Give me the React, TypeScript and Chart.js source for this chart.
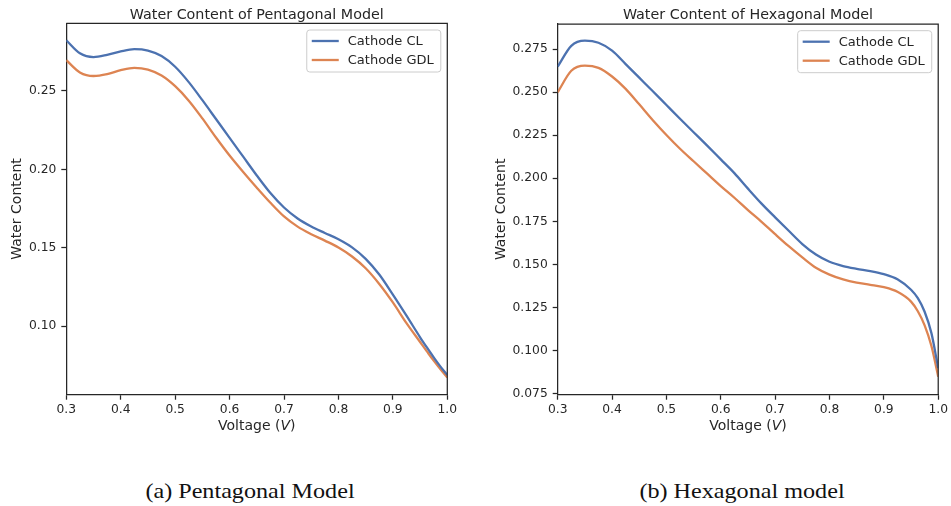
import React, { useEffect, useRef } from 'react';
import { Chart, registerables } from 'chart.js';

Chart.register(...registerables);

// ---------------- data ----------------
const voltage = [
  0.3, 0.325, 0.35, 0.375, 0.4, 0.425, 0.45, 0.475, 0.5, 0.525, 0.55, 0.575, 0.6, 0.625, 0.65, 0.675,
  0.7, 0.725, 0.75, 0.775, 0.8, 0.825, 0.85, 0.875, 0.9, 0.925, 0.95, 0.9625, 0.975, 0.9875, 1.0,
];

const pentagonalCL = [
  0.2823, 0.274, 0.2716, 0.273, 0.2752, 0.2766, 0.2757, 0.2722, 0.2654, 0.2556, 0.2441, 0.2321, 0.2201, 0.2081, 0.1961, 0.1849,
  0.1757, 0.1687, 0.1636, 0.1595, 0.1555, 0.1503, 0.143, 0.133, 0.1202, 0.1068, 0.093, 0.0865, 0.0802, 0.0743, 0.0689,
];
const pentagonalGDL = [
  0.2696, 0.2618, 0.2595, 0.2607, 0.2632, 0.2647, 0.2636, 0.2598, 0.253, 0.2438, 0.2325, 0.2203, 0.2088, 0.1983, 0.1883, 0.1787,
  0.17, 0.1635, 0.1587, 0.1546, 0.1502, 0.1445, 0.137, 0.127, 0.1152, 0.102, 0.09, 0.084, 0.0781, 0.0726, 0.0674,
];
const hexagonalCL = [
  0.2649, 0.277, 0.28, 0.2788, 0.2742, 0.2664, 0.2585, 0.2506, 0.2426, 0.2346, 0.2268, 0.219, 0.211, 0.203, 0.194, 0.1853,
  0.1773, 0.1695, 0.1618, 0.1557, 0.1515, 0.149, 0.1474, 0.1461, 0.1443, 0.1413, 0.1352, 0.1303, 0.1224, 0.11, 0.0895,
];
const hexagonalGDL = [
  0.25, 0.2625, 0.2655, 0.2642, 0.2592, 0.252, 0.243, 0.2338, 0.2252, 0.2172, 0.2099, 0.2027, 0.1955, 0.1887, 0.1815, 0.1747,
  0.1675, 0.1605, 0.154, 0.148, 0.144, 0.1412, 0.1393, 0.1381, 0.1367, 0.134, 0.1283, 0.1227, 0.1145, 0.1025, 0.0847,
];

const seriesNames = ['Cathode CL', 'Cathode GDL'];
const seriesColors = ['#4C72B0', '#DD8452'];
const xTickValues = [0.3, 0.4, 0.5, 0.6, 0.7, 0.8, 0.9, 1.0];
const pentagonalYTicks = [0.1, 0.15, 0.2, 0.25];
const hexagonalYTicks = [0.075, 0.1, 0.125, 0.15, 0.175, 0.2, 0.225, 0.25, 0.275];
const chartTitles = ['Water Content of Pentagonal Model', 'Water Content of Hexagonal Model'];
const captions = ['(a) Pentagonal Model', '(b) Hexagonal model'];
const yAxisTitle = 'Water Content';
const xAxisTitleParts = ['Voltage (', 'V', ')'];

// ---------------- styling ----------------
const INK = '#262626';
const SANS = '"DejaVu Sans", sans-serif';

const panelPlugin = {
  id: 'panel',
  afterDraw(chart: any, _args: any, opts: any) {
    const { ctx, chartArea: a } = chart;
    const cx = (a.left + a.right) / 2;
    ctx.save();
    // top + right spines
    ctx.strokeStyle = INK;
    ctx.lineWidth = 1.25;
    ctx.beginPath();
    ctx.moveTo(a.left, a.top);
    ctx.lineTo(a.right, a.top);
    ctx.lineTo(a.right, a.bottom);
    ctx.stroke();

    // title
    ctx.fillStyle = INK;
    ctx.font = `14.3px ${SANS}`;
    ctx.textAlign = 'center';
    ctx.textBaseline = 'alphabetic';
    ctx.fillText(opts.title, cx, opts.titleY);

    // x axis title with italic V
    const normal = `14px ${SANS}`;
    const italic = `oblique 14px ${SANS}`;
    ctx.font = normal;
    const w0 = ctx.measureText(xAxisTitleParts[0]).width;
    const w2 = ctx.measureText(xAxisTitleParts[2]).width;
    ctx.font = italic;
    const w1 = ctx.measureText(xAxisTitleParts[1]).width;
    let x = cx - (w0 + w1 + w2) / 2;
    ctx.textAlign = 'left';
    ctx.font = normal;
    ctx.fillText(xAxisTitleParts[0], x, opts.xTitleY);
    x += w0;
    ctx.font = italic;
    ctx.fillText(xAxisTitleParts[1], x, opts.xTitleY);
    x += w1;
    ctx.font = normal;
    ctx.fillText(xAxisTitleParts[2], x, opts.xTitleY);

    // legend inside, upper right
    ctx.font = `13px ${SANS}`;
    const labels = chart.data.datasets.map((d: any) => d.label as string);
    const tw = Math.max(...labels.map((l: string) => ctx.measureText(l).width));
    const bw = 41 + tw + 7;
    const bh = 42;
    const bx = a.right - 6.5 - bw;
    const by = a.top + 6.7;
    ctx.beginPath();
    (ctx as any).roundRect(bx, by, bw, bh, 3);
    ctx.fillStyle = 'rgba(255,255,255,0.8)';
    ctx.fill();
    ctx.strokeStyle = '#cccccc';
    ctx.lineWidth = 1;
    ctx.stroke();
    chart.data.datasets.forEach((d: any, i: number) => {
      const ry = by + 11 + i * 19;
      ctx.beginPath();
      ctx.moveTo(bx + 5, ry);
      ctx.lineTo(bx + 32, ry);
      ctx.strokeStyle = d.borderColor;
      ctx.lineWidth = 2.3;
      ctx.stroke();
      ctx.fillStyle = INK;
      ctx.textAlign = 'left';
      ctx.textBaseline = 'middle';
      ctx.fillText(d.label, bx + 41, ry + 0.5);
    });
    ctx.restore();
  },
};

type PanelSpec = {
  cl: number[];
  gdl: number[];
  yMin: number;
  yMax: number;
  yTicks: number[];
  yDecimals: number;
  title: string;
  plotLeft: number;
  plotRight: number;
  plotTop: number;
  plotBottom: number;
  width: number;
  height: number;
  yTitleCenter: number;
};

function buildChart(canvas: HTMLCanvasElement, s: PanelSpec) {
  const tickFont = { family: SANS, size: 12.3 };
  return new Chart(canvas, {
    type: 'line',
    data: {
      datasets: [s.cl, s.gdl].map((vals, k) => ({
        label: seriesNames[k],
        data: voltage.map((v, i) => ({ x: v, y: vals[i] })),
        borderColor: seriesColors[k],
        backgroundColor: seriesColors[k],
        borderWidth: 2.3,
        pointRadius: 0,
        fill: false,
        cubicInterpolationMode: 'monotone' as const,
      })),
    },
    options: {
      responsive: false,
      animation: false,
      events: [],
      layout: {
        padding: { left: 0, top: s.plotTop, right: s.width - s.plotRight, bottom: 0 },
      },
      plugins: {
        legend: { display: false },
        tooltip: { enabled: false },
        title: { display: false },
        panel: { title: s.title, titleY: 19, xTitleY: 429.5 },
      } as any,
      scales: {
        x: {
          type: 'linear',
          min: 0.3,
          max: 1.0,
          afterBuildTicks: (sc: any) => {
            sc.ticks = xTickValues.map((v) => ({ value: v }));
          },
          afterFit: (sc: any) => {
            sc.height = s.height - s.plotBottom;
          },
          ticks: {
            autoSkip: false,
            maxRotation: 0,
            font: tickFont,
            color: INK,
            padding: 3,
            callback: (v: any) => Number(v).toFixed(1),
          },
          grid: {
            display: true,
            drawOnChartArea: false,
            drawTicks: true,
            tickLength: 5,
            tickColor: INK,
            tickWidth: 1.25,
          },
          border: { display: true, color: INK, width: 1.25 },
        },
        y: {
          type: 'linear',
          min: s.yMin,
          max: s.yMax,
          afterBuildTicks: (sc: any) => {
            sc.ticks = s.yTicks.map((v) => ({ value: v }));
          },
          afterFit: (sc: any) => {
            sc.width = s.plotLeft;
          },
          ticks: {
            autoSkip: false,
            font: tickFont,
            color: INK,
            padding: 5,
            callback: (v: any) => Number(v).toFixed(s.yDecimals),
          },
          grid: {
            display: true,
            drawOnChartArea: false,
            drawTicks: true,
            tickLength: 5,
            tickColor: INK,
            tickWidth: 1.25,
          },
          border: { display: true, color: INK, width: 1.25 },
          title: {
            display: true,
            text: yAxisTitle,
            color: INK,
            font: { family: SANS, size: 14 },
            padding: { top: s.yTitleCenter - 8.4, bottom: 0 },
          },
        },
      },
    } as any,
    plugins: [panelPlugin as any],
  });
}

const leftSpec: PanelSpec = {
  cl: pentagonalCL,
  gdl: pentagonalGDL,
  yMin: 0.0564,
  yMax: 0.2931,
  yTicks: pentagonalYTicks,
  yDecimals: 2,
  title: chartTitles[0],
  plotLeft: 66.3,
  plotRight: 447.3,
  plotTop: 23.3,
  plotBottom: 394.7,
  width: 475,
  height: 450,
  yTitleCenter: 17.8,
};

const rightSpec: PanelSpec = {
  cl: hexagonalCL,
  gdl: hexagonalGDL,
  yMin: 0.0742,
  yMax: 0.2897,
  yTicks: hexagonalYTicks,
  yDecimals: 3,
  title: chartTitles[1],
  plotLeft: 82.7,
  plotRight: 464,
  plotTop: 24,
  plotBottom: 394.7,
  width: 476,
  height: 450,
  yTitleCenter: 26.5,
};

function Panel({ spec, left }: { spec: PanelSpec; left: number }) {
  const ref = useRef<HTMLCanvasElement>(null);
  useEffect(() => {
    if (!ref.current) return;
    const chart = buildChart(ref.current, spec);
    return () => chart.destroy();
  }, [spec]);
  return (
    <canvas
      ref={ref}
      width={spec.width}
      height={spec.height}
      style={{ position: 'absolute', left, top: 0, width: spec.width, height: spec.height, display: 'block' }}
    />
  );
}

function Caption({ text, center }: { text: string; center: number }) {
  return (
    <div
      style={{
        position: 'absolute',
        left: center,
        top: 481,
        transform: 'translateX(-50%) scaleX(1.15)',
        fontFamily: '"Liberation Serif", serif',
        fontSize: 21,
        lineHeight: 1,
        whiteSpace: 'nowrap',
        color: '#111',
      }}
    >
      {text}
    </div>
  );
}

export default function App() {
  return (
    <div style={{ position: 'absolute', left: 0, top: 0, width: 951, height: 506, background: '#fff', overflow: 'hidden' }}>
      <Panel spec={leftSpec} left={0} />
      <Panel spec={rightSpec} left={475} />
      <Caption text={captions[0]} center={249.5} />
      <Caption text={captions[1]} center={741.5} />
    </div>
  );
}
